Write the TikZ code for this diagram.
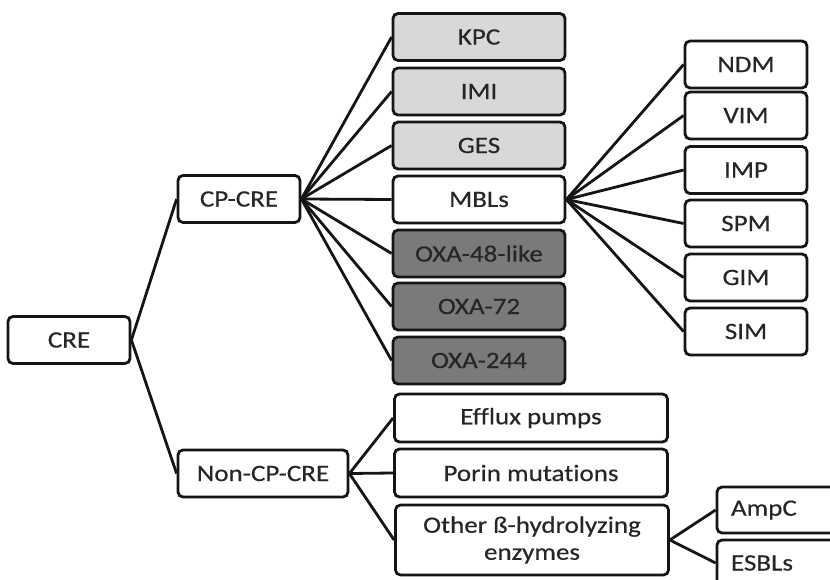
\documentclass[tikz,border=0pt]{standalone}
\usepackage{fontspec}
\setmainfont{Carlito}[FakeStretch=1.15,FakeBold=0.4,Ligatures={NoCommon,NoRequired,NoContextual}]
\definecolor{lightbox}{HTML}{D8D8D8}
\definecolor{darkbox}{HTML}{7A7A7A}
\definecolor{edge}{HTML}{151515}
\begin{document}
\begin{tikzpicture}[x=1pt,y=-1pt,
  box/.style={draw=edge,line width=2.8pt,rounded corners=5pt,fill=white,
    inner sep=0pt,align=center,font=\fontsize{23.5}{27}\selectfont,text=black!85},
  narrow/.style={box,minimum width=122pt,minimum height=47pt},
  mid/.style={box,minimum width=172pt,minimum height=47pt},
  wide/.style={box,minimum width=273pt,minimum height=48pt},
  light/.style={fill=lightbox},
  dark/.style={fill=darkbox},
  link/.style={draw=edge,line width=2.8pt}]
\clip (0,0) rectangle (830,580);
\fill[white] (0,0) rectangle (830,580);
% level 0/1
\node[narrow] (cre) at (69,340) {CRE};
\node[narrow] (cp) at (239,199) {CP-CRE};
\node[box,minimum width=170pt,minimum height=47pt] (noncp) at (263,473.5) {Non-CP-CRE};
% CP-CRE children
\node[mid,light] (kpc) at (479,37) {KPC};
\node[mid,light] (imi) at (479,91.5) {IMI};
\node[mid,light] (ges) at (479,145.5) {GES};
\node[mid] (mbl) at (479,199.5) {MBLs};
\node[mid,dark] (oxa48) at (479,253.5) {OXA-48-like};
\node[mid,dark] (oxa72) at (479,306.5) {OXA-72};
\node[mid,dark] (oxa244) at (479,360.5) {OXA-244};
% MBL children
\node[narrow] (ndm) at (746,64.5) {NDM};
\node[narrow] (vim) at (746,115.5) {VIM};
\node[narrow] (imp) at (746,170) {IMP};
\node[narrow] (spm) at (746,223.5) {SPM};
\node[narrow] (gim) at (746,277.5) {GIM};
\node[narrow] (sim) at (746,331.5) {SIM};
% Non-CP-CRE children
\node[wide] (eff) at (531,418) {Efflux pumps};
\node[wide] (por) at (531,473) {Porin mutations};
\node[wide,minimum height=70pt] (oth) at (532,540) {Other ß-hydrolyzing\\enzymes};
\node[box,minimum width=130pt,minimum height=46pt,text width=118pt,align=left] (ampc) at (782,510) {\hspace*{8pt}AmpC};
\node[box,minimum width=130pt,minimum height=46pt,text width=118pt,align=left] (esbl) at (782,563) {\hspace*{8pt}ESBLs};
% connectors
\draw[link] (cre.east) -- (cp.west);
\draw[link] (cre.east) -- (noncp.west);
\foreach \c in {kpc,imi,ges,mbl,oxa48,oxa72,oxa244}
  \draw[link] (cp.east) -- (\c.west);
\foreach \c in {ndm,vim,imp,spm,gim,sim}
  \draw[link] (mbl.east) -- (\c.west);
\foreach \c in {eff,por,oth}
  \draw[link] (noncp.east) -- (\c.west);
\draw[link] (oth.east) -- (ampc.west);
\draw[link] (oth.east) -- (esbl.west);
\end{tikzpicture}
\end{document}
